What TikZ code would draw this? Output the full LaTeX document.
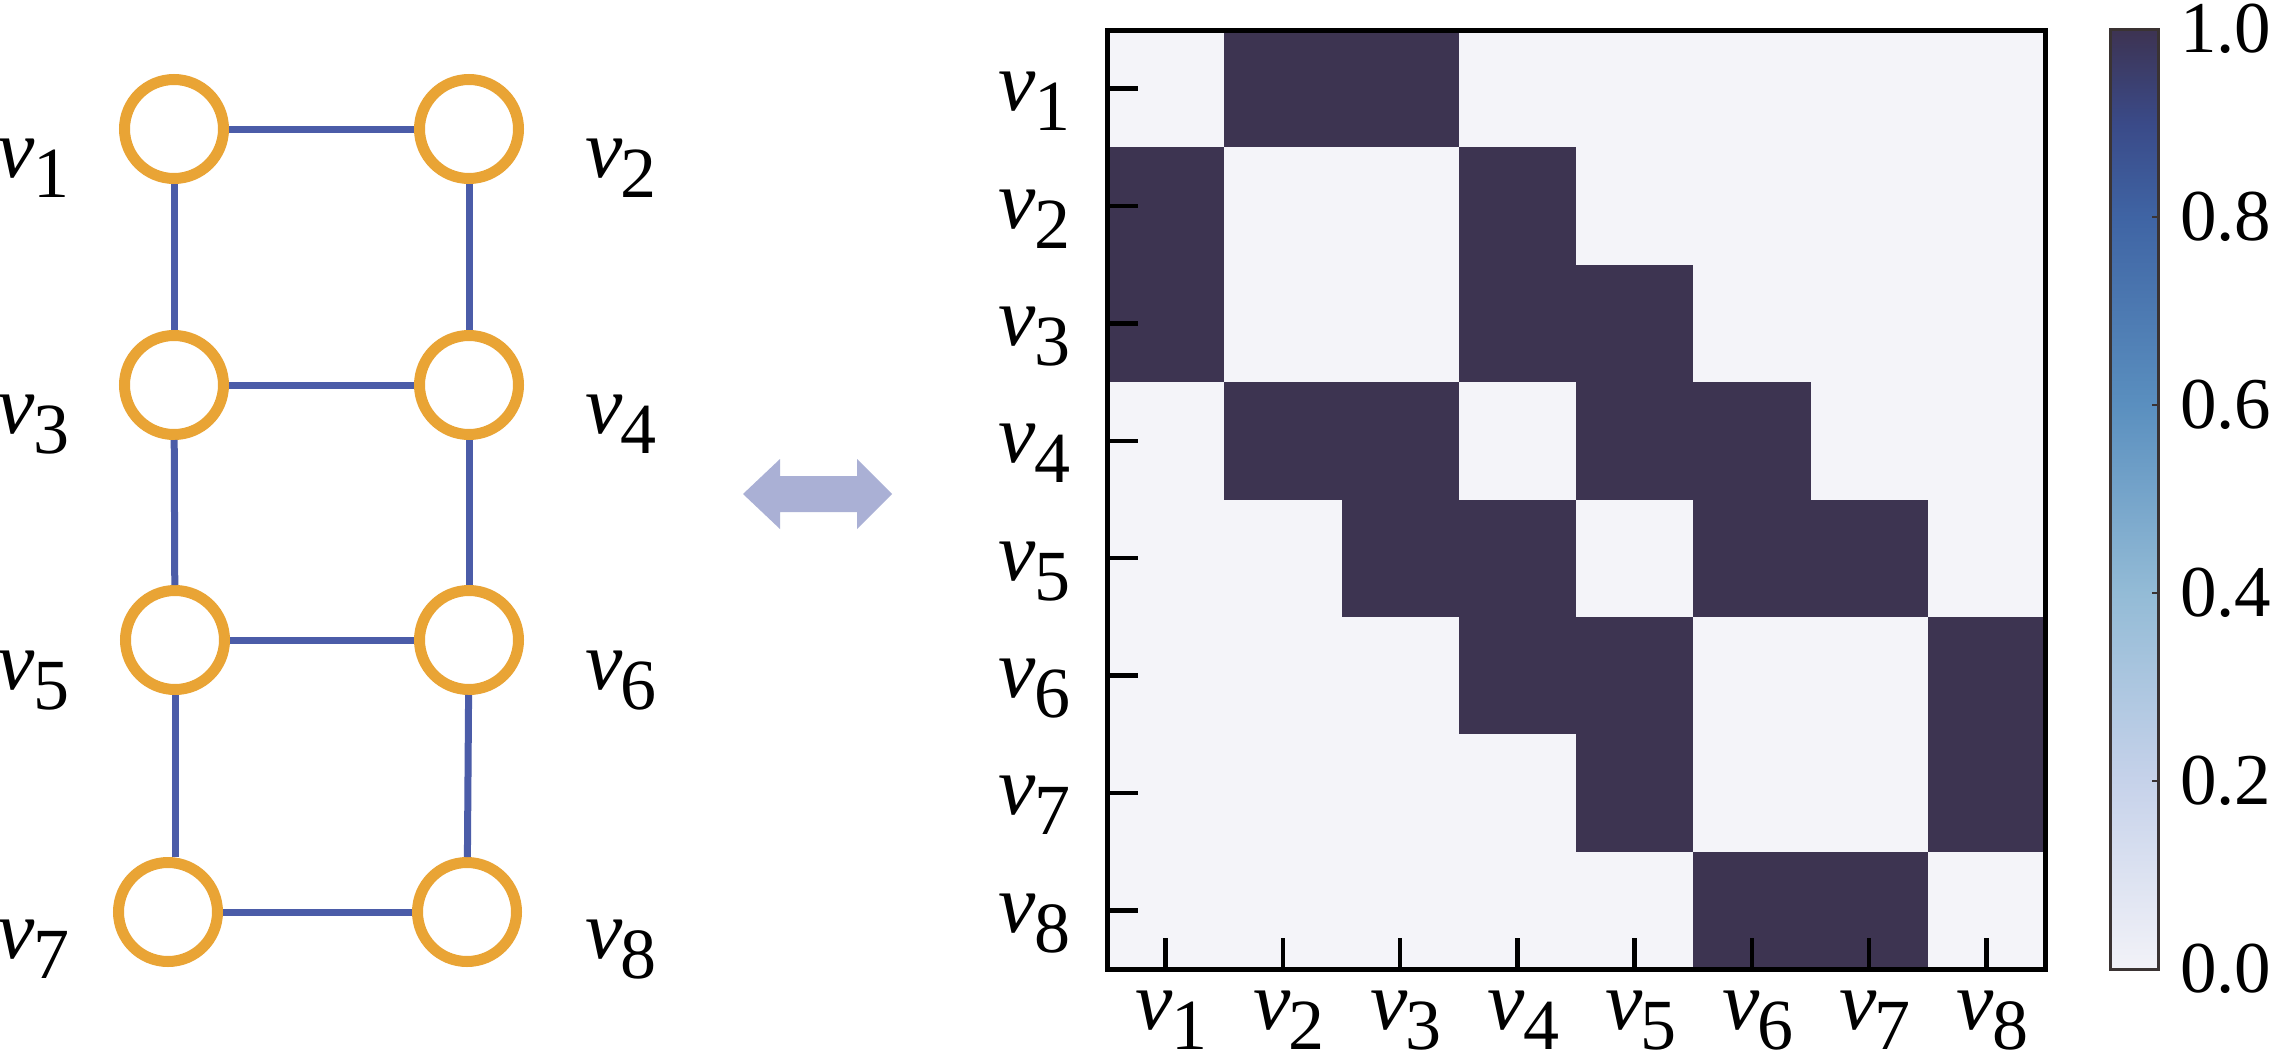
\documentclass[tikz,border=0pt]{standalone}
\usepackage{fontspec}
\setmainfont{Liberation Serif}
\usetikzlibrary{shapes.geometric}
\definecolor{vorange}{HTML}{E9A435}
\definecolor{eblue}{HTML}{4B5CA8}
\definecolor{celldark}{HTML}{3D3451}
\definecolor{celllight}{HTML}{F4F4F9}
\definecolor{arrowc}{HTML}{AAB0D5}
\definecolor{cbA}{HTML}{F2F2F8}
\definecolor{cbB}{HTML}{C6D2EA}
\definecolor{cbC}{HTML}{93BBD6}
\definecolor{cbD}{HTML}{5A8FBF}
\definecolor{cbE}{HTML}{3F64A4}
\definecolor{cbF}{HTML}{3A4A88}
\definecolor{cbG}{HTML}{3D3352}
\definecolor{cbframe}{HTML}{3A3333}
\pgfdeclareverticalshading{cbarshade}{100bp}{color(0bp)=(cbA); color(25bp)=(cbA); color(35bp)=(cbB); color(45bp)=(cbC); color(55bp)=(cbD); color(65bp)=(cbE); color(70bp)=(cbF); color(75bp)=(cbG); color(100bp)=(cbG)}
\newcommand{\vl}[1]{{\fontsize{84}{90}\selectfont\itshape v}\kern-2pt\raisebox{-20pt}{\fontsize{72}{76}\selectfont #1}}
\begin{document}
\begin{tikzpicture}[x=1pt,y=-1pt,
  vert/.style={circle,draw=vorange,line width=11pt,fill=white,minimum size=99pt,inner sep=0pt},
  edge/.style={draw=eblue,line width=7pt},
  lab/.style={inner sep=0pt,outer sep=0pt},
  tickmark/.style={draw=black,line width=4.5pt},
  cell/.style={fill=celldark},
  cbnum/.style={inner sep=0pt,anchor=west,font=\fontsize{73}{76}\selectfont}]
\useasboundingbox (0,0) rectangle (2275,1060);
\fill[white] (0,0) rectangle (2275,1060);
% graph
\node[vert] (v1) at (174,129) {};
\node[vert] (v2) at (469,129) {};
\node[vert] (v3) at (174,385) {};
\node[vert] (v4) at (469,385) {};
\node[vert] (v5) at (175,640) {};
\node[vert] (v6) at (469,640) {};
\node[vert] (v7) at (168,912) {};
\node[vert] (v8) at (467,912) {};
\draw[edge] (v1) -- (v2);
\draw[edge] (v3) -- (v4);
\draw[edge] (v5) -- (v6);
\draw[edge] (v7) -- (v8);
\draw[edge] (v1) -- (v3);
\draw[edge] (v3) -- (v5);
\draw[edge] (v5.south) -- (v5.south |- v7.north);
\draw[edge] (v2) -- (v4);
\draw[edge] (v4) -- (v6);
\draw[edge] (v6) -- (v8);
\node[lab,anchor=base west] (lv1) at (-2,177) {\vl{1}};
\node[lab,anchor=base west] (lv3) at (-2,433) {\vl{3}};
\node[lab,anchor=base west] (lv5) at (-2,689) {\vl{5}};
\node[lab,anchor=base west] (lv7) at (-2,958) {\vl{7}};
\node[lab,anchor=base west] (lv2) at (585,177) {\vl{2}};
\node[lab,anchor=base west] (lv4) at (585,433) {\vl{4}};
\node[lab,anchor=base west] (lv6) at (585,689) {\vl{6}};
\node[lab,anchor=base west] (lv8) at (585,958) {\vl{8}};
% double arrow
\fill[arrowc] (743,494) -- (780,459) -- (780,476) -- (857,476) -- (857,459) -- (892,494) -- (857,529) -- (857,512) -- (780,512) -- (780,529) -- cycle;
% matrix
\fill[celllight] (1107,30) rectangle (2045,969);
\foreach \r/\c in {1/2,1/3,2/1,2/4,3/1,3/4,3/5,4/2,4/3,4/5,4/6,5/3,5/4,5/6,5/7,6/4,6/5,6/8,7/5,7/8,8/6,8/7}
  \fill[cell] ({1107+(\c-1)*117.25},{30+(\r-1)*117.375}) rectangle ++(117.25,117.375);
\foreach \i in {1,...,8} {
  \draw[tickmark] ({1107+(\i-0.5)*117.25},969) -- ++(0,-31);
  \draw[tickmark] (1107,{30+(\i-0.5)*117.375}) -- ++(31,0);
  \node[lab,anchor=base] (xl\i) at ({1107+(\i-0.5)*117.25+6},1029) {\vl{\i}};
  \node[lab,anchor=base east] (yl\i) at (1070,{30+(\i-0.5)*117.375+22}) {\vl{\i}};
}
\draw[line width=5pt] (1107,30) rectangle (2045,969);
% colorbar
\shade[shading=cbarshade] (2110,29) rectangle (2158,969);
\foreach \v/\t in {0/0.0,0.2/0.2,0.4/0.4,0.6/0.6,0.8/0.8,1/1.0} {
  \draw[cbframe,line width=2pt] (2158,{969-\v*940}) -- ++(-6,0);
  \node[cbnum] (cb\t) at (2180,{969-\v*940}) {\t};
}
\draw[cbframe,line width=3pt] (2110,29) rectangle (2158,969);
\end{tikzpicture}
\end{document}
